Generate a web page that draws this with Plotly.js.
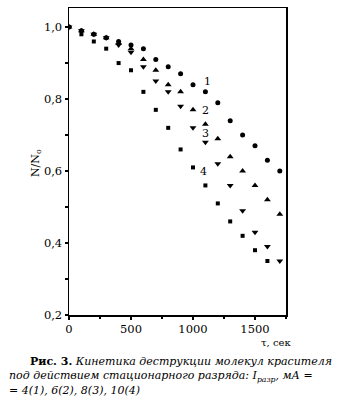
<!DOCTYPE html>
<html><head><meta charset="utf-8">
<script src="https://cdn.plot.ly/plotly-3.0.1.min.js"></script>
<style>html,body{margin:0;padding:0;background:#fff}#c{width:354px;height:401px}</style>
</head><body><div id="c"></div>
<script>
const tS1 = [0,100,200,300,400,500,600,700,800,900,1000,1100,1200,1300,1400,1500,1600,1700];
const s1 = [1.0,0.99,0.98,0.97,0.96,0.95,0.94,0.91,0.89,0.87,0.84,0.82,0.79,0.74,0.70,0.67,0.63,0.60];
const tS2 = [0,100,200,300,400,500,600,700,800,900,1000,1100,1200,1300,1400,1500,1600,1700];
const s2 = [1.0,0.99,0.98,0.97,0.955,0.94,0.91,0.88,0.84,0.82,0.77,0.73,0.69,0.64,0.60,0.56,0.52,0.48];
const tS3 = [0,100,200,300,400,500,600,700,800,900,1000,1100,1200,1300,1400,1500,1600,1700];
const s3 = [1.0,0.99,0.98,0.97,0.95,0.93,0.89,0.85,0.82,0.78,0.72,0.68,0.62,0.56,0.49,0.43,0.39,0.35];
const tS4 = [0,100,200,300,400,500,600,700,800,900,1000,1100,1200,1300,1400,1500,1600];
const s4 = [1.0,0.98,0.96,0.94,0.90,0.88,0.82,0.77,0.72,0.66,0.61,0.56,0.51,0.46,0.42,0.38,0.35];
const curveLabels = ["1","2","3","4"];
const labelX = [1113,1097,1097,1081];
const labelY = [0.85,0.767,0.703,0.60];
const xTicks = [0,500,1000,1500];
const yTicks = [0.2,0.4,0.6,0.8,1.0];

const serif = "DejaVu Serif, Liberation Serif, serif";
function tr(x,y,sym,size){return {x:x,y:y,type:'scatter',mode:'markers',marker:{symbol:sym,size:size,color:'#000'},showlegend:false,hoverinfo:'none'};}
const data = [tr(tS1,s1,'circle',5), tr(tS2,s2,'triangle-up',6), tr(tS3,s3,'triangle-down',6), tr(tS4,s4,'square',4)];

const ann = curveLabels.map((t,i)=>({x:labelX[i],y:labelY[i],xref:'x',yref:'y',text:t,showarrow:false,font:{family:serif,size:11,color:'#000'}}));
ann.push({xref:'paper',yref:'paper',x:(27-69)/217,y:(315-163)/307,text:'N/N<sub>o</sub>',textangle:-90,showarrow:false,font:{family:serif,size:11,color:'#000'}});
ann.push({xref:'paper',yref:'paper',x:(276-69)/217,xanchor:'center',y:(315-342)/307,yanchor:'middle',text:'τ, сек',showarrow:false,font:{family:serif,size:10,color:'#000'}});
const nb = '\u00a0\u00a0\u00a0\u00a0\u00a0\u00a0';
ann.push({xref:'paper',yref:'paper',xanchor:'left',yanchor:'middle',align:'left',borderpad:0,x:(8-69)/217,y:(315-376)/307,
  text:nb+'<b>Рис. 3.</b> <i>Кинетика деструкции молекул красителя</i><br><i>под действием стационарного разряда: I<sub>разр</sub>, мА =</i><br><i>= 4(1), 6(2), 8(3), 10(4)</i>',
  showarrow:false,font:{family:serif,size:11,color:'#000'}});

const axBase = {showgrid:false,zeroline:false,showline:true,linecolor:'#000',linewidth:1.5,mirror:true,ticks:'outside',ticklen:3,tickwidth:1.5,tickcolor:'#000',tickfont:{family:serif,size:11.5,color:'#000'}};
const layout = {
  width:354,height:401,margin:{l:69,r:68,t:8,b:86},
  paper_bgcolor:'#fff',plot_bgcolor:'#fff',separators:', ',
  xaxis:Object.assign({},axBase,{range:[0,1750],tickvals:xTicks,ticktext:xTicks.map(String),minor:{dtick:250,tick0:0,ticks:'outside',ticklen:2,tickcolor:'#000',tickwidth:1.5}}),
  yaxis:Object.assign({},axBase,{range:[0.2,1.053],tickvals:yTicks,ticktext:yTicks.map(v=>v.toFixed(1).replace('.',',')),minor:{dtick:0.1,tick0:0.2,ticks:'outside',ticklen:3,tickcolor:'#000',tickwidth:1.5}}),
  annotations:ann
};
Plotly.newPlot('c',data,layout,{staticPlot:true,displayModeBar:false});
</script></body></html>
